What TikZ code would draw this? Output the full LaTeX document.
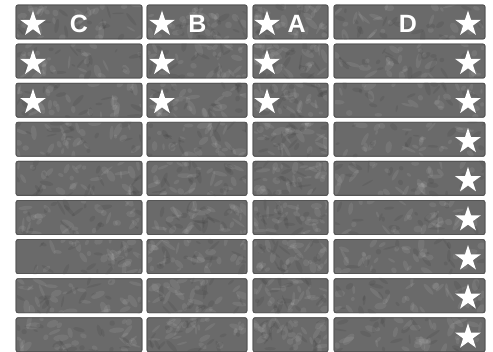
\documentclass[tikz,border=0pt]{standalone}
\usepackage{fontspec}
\setsansfont{Liberation Sans}
\usetikzlibrary{shapes.geometric}
\definecolor{tilegray}{HTML}{6A6A6A}
\definecolor{tileedge}{HTML}{555555}
\begin{document}
\begin{tikzpicture}[x=1pt,y=-1pt,
  tile/.style={draw=tileedge, line width=0.8pt, fill=tilegray, rounded corners=2pt, inner sep=0pt, outer sep=0pt},
  wstar/.style={star, star points=5, star point ratio=2.618, fill=white, draw=none, minimum size=27pt, inner sep=0pt},
  lbl/.style={font=\sffamily\bfseries\fontsize{25}{25}\selectfont, text=white, inner sep=0pt}]
\useasboundingbox (0,0) rectangle (493,352);
\fill[white] (0,0) rectangle (493,352);
\pgfmathsetseed{11}
\foreach \col/\xl/\xr/\sx in {c/16/142/33, b/147/247/162, a/253/328/267, d/334/485/468} {
  \foreach \r in {1,...,9} {
    \pgfmathsetmacro\yt{5+39.1*(\r-1)}
    \pgfmathsetmacro\w{\xr-\xl}
    \pgfmathsetmacro\cx{(\xl+\xr)/2}
    \pgfmathsetmacro\cy{\yt+17}
    \node[tile, minimum width=\w pt, minimum height=34pt] (\col\r) at (\cx,\cy) {};
    \begin{scope}
      \clip[rounded corners=2pt] ([shift={(1pt,-1pt)}]\col\r.south west) rectangle ([shift={(-1pt,1pt)}]\col\r.north east);
      \foreach \k in {1,...,30} {
        \pgfmathsetmacro\px{\xl+rnd*\w}
        \pgfmathsetmacro\py{\yt+rnd*34}
        \pgfmathsetmacro\ra{2+rnd*6}
        \pgfmathsetmacro\rb{1+rnd*2.5}
        \pgfmathsetmacro\an{rnd*180}
        \fill[white, opacity=0.08, rotate around={\an:(\px,\py)}] (\px,\py) ellipse ({\ra pt} and {\rb pt});
      }
      \foreach \k in {1,...,18} {
        \pgfmathsetmacro\px{\xl+rnd*\w}
        \pgfmathsetmacro\py{\yt+rnd*34}
        \pgfmathsetmacro\ra{2+rnd*6}
        \pgfmathsetmacro\rb{0.8+rnd*2}
        \pgfmathsetmacro\an{rnd*180}
        \fill[black, opacity=0.07, rotate around={\an:(\px,\py)}] (\px,\py) ellipse ({\ra pt} and {\rb pt});
      }
    \end{scope}
    \draw[tileedge, line width=0.8pt, rounded corners=2pt] (\col\r.south west) rectangle (\col\r.north east);
  }
}
% stars in columns C, B, A (rows 1-3)
\foreach \col/\sx in {c/33, b/162, a/267} {
  \foreach \r in {1,2,3} {
    \pgfmathsetmacro\sy{5+39.1*(\r-1)+19}
    \node[wstar] (s\col\r) at (\sx,\sy) {};
  }
}
% stars in column D (all rows)
\foreach \r in {1,...,9} {
  \pgfmathsetmacro\sy{5+39.1*(\r-1)+19}
  \node[wstar] (sd\r) at (468,\sy) {};
}
% column labels
\node[lbl] (lc) at (79,24) {C};
\node[lbl] (lb) at (197.5,24) {B};
\node[lbl] (la) at (296.7,24) {A};
\node[lbl] (ld) at (408,24) {D};
\end{tikzpicture}
\end{document}
